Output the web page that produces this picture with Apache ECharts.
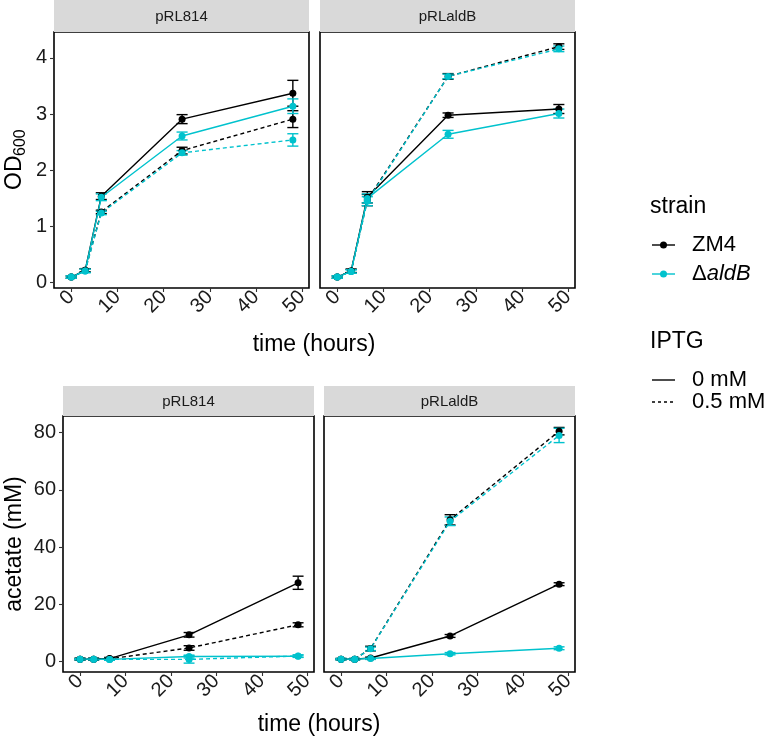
<!DOCTYPE html>
<html><head><meta charset="utf-8">
<script src="https://cdn.jsdelivr.net/npm/echarts@6/dist/echarts.min.js"></script>
<style>html,body{margin:0;padding:0;background:#fff}#c{width:771px;height:747px}</style>
</head><body><div id="c"></div>
<script>
// ---------------- data ----------------
const time = [0, 3, 6.5, 24, 48];
const xTicks = [0, 10, 20, 30, 40, 50];
const odTicks = [0, 1, 2, 3, 4];
const acTicks = [0, 20, 40, 60, 80];
const panelNames = ['pRL814', 'pRLaldB'];

// OD600 – pRL814
const od814_ZM4_0      = [0.10, 0.22, 1.54, 2.91, 3.37];
const od814_ZM4_0_err  = [0.02, 0.03, 0.06, 0.08, 0.23];
const od814_ZM4_05     = [0.10, 0.22, 1.26, 2.35, 2.91];
const od814_ZM4_05_err = [0.02, 0.03, 0.03, 0.06, 0.15];
const od814_dA_0       = [0.10, 0.21, 1.52, 2.61, 3.14];
const od814_dA_0_err   = [0.02, 0.03, 0.06, 0.07, 0.13];
const od814_dA_05      = [0.10, 0.21, 1.24, 2.31, 2.54];
const od814_dA_05_err  = [0.02, 0.03, 0.03, 0.04, 0.11];
// OD600 – pRLaldB
const odB_ZM4_0      = [0.10, 0.21, 1.52, 2.98, 3.09];
const odB_ZM4_0_err  = [0.02, 0.03, 0.10, 0.04, 0.08];
const odB_ZM4_05     = [0.10, 0.21, 1.47, 3.67, 4.20];
const odB_ZM4_05_err = [0.02, 0.03, 0.10, 0.05, 0.05];
const odB_dA_0       = [0.10, 0.20, 1.50, 2.64, 3.01];
const odB_dA_0_err   = [0.02, 0.03, 0.08, 0.07, 0.08];
const odB_dA_05      = [0.10, 0.20, 1.45, 3.67, 4.16];
const odB_dA_05_err  = [0.02, 0.03, 0.08, 0.04, 0.05];
// acetate – pRL814
const ac814_ZM4_0      = [0.8, 0.8, 1.0, 9.3, 27.5];
const ac814_ZM4_0_err  = [0.3, 0.3, 0.4, 0.8, 2.3];
const ac814_ZM4_05     = [0.8, 0.8, 0.9, 4.7, 12.8];
const ac814_ZM4_05_err = [0.3, 0.3, 0.3, 0.8, 0.7];
const ac814_dA_0       = [0.8, 0.8, 0.7, 1.7, 1.8];
const ac814_dA_0_err   = [0.2, 0.2, 0.3, 0.5, 0.4];
const ac814_dA_05      = [0.8, 0.8, 0.7, 0.7, 1.9];
const ac814_dA_05_err  = [0.2, 0.2, 0.3, 1.3, 0.4];
// acetate – pRLaldB
const acB_ZM4_0      = [0.8, 0.8, 1.2, 8.9, 27.0];
const acB_ZM4_0_err  = [0.2, 0.2, 0.3, 0.5, 0.5];
const acB_ZM4_05     = [0.8, 0.8, 4.5, 49.5, 80.5];
const acB_ZM4_05_err = [0.2, 0.2, 0.8, 1.8, 1.3];
const acB_dA_0       = [0.8, 0.8, 1.0, 2.7, 4.6];
const acB_dA_0_err   = [0.2, 0.2, 0.3, 0.4, 0.5];
const acB_dA_05      = [0.8, 0.8, 4.4, 49.0, 79.0];
const acB_dA_05_err  = [0.2, 0.2, 0.6, 1.5, 2.5];

// ---------------- style ----------------
const BLACK = '#000000';
const CYAN = '#00C2CD';
const FONT = '"Liberation Sans", Arial, sans-serif';
const CAP = 1.2; // half-width of error-bar caps, in hours

const panelsData = [
  [[od814_ZM4_0, od814_ZM4_0_err, BLACK, 'solid'], [od814_ZM4_05, od814_ZM4_05_err, BLACK, 'dashed'],
   [od814_dA_0, od814_dA_0_err, CYAN, 'solid'], [od814_dA_05, od814_dA_05_err, CYAN, 'dashed']],
  [[odB_ZM4_0, odB_ZM4_0_err, BLACK, 'solid'], [odB_ZM4_05, odB_ZM4_05_err, BLACK, 'dashed'],
   [odB_dA_0, odB_dA_0_err, CYAN, 'solid'], [odB_dA_05, odB_dA_05_err, CYAN, 'dashed']],
  [[ac814_ZM4_0, ac814_ZM4_0_err, BLACK, 'solid'], [ac814_ZM4_05, ac814_ZM4_05_err, BLACK, 'dashed'],
   [ac814_dA_0, ac814_dA_0_err, CYAN, 'solid'], [ac814_dA_05, ac814_dA_05_err, CYAN, 'dashed']],
  [[acB_ZM4_0, acB_ZM4_0_err, BLACK, 'solid'], [acB_ZM4_05, acB_ZM4_05_err, BLACK, 'dashed'],
   [acB_dA_0, acB_dA_0_err, CYAN, 'solid'], [acB_dA_05, acB_dA_05_err, CYAN, 'dashed']]
];

const grids = [
  {left: 54, top: 32, width: 255, height: 256},
  {left: 320, top: 32, width: 255, height: 256},
  {left: 63, top: 416, width: 251, height: 256},
  {left: 324, top: 416, width: 251, height: 256}
];
const yRanges = [[-0.094, 4.46], [-0.094, 4.46], [-3.7, 85.8], [-3.7, 85.8]];
const yTickSets = [odTicks, odTicks, acTicks, acTicks];
const TICKFONT = 20;

const xAxes = grids.map((g, i) => ({
  type: 'value', gridIndex: i, min: -3.75, max: 51.5,
  axisLine: {show: false, onZero: false}, splitLine: {show: false},
  axisTick: {show: true, length: 4, customValues: xTicks, lineStyle: {color: '#333', width: 1.1}},
  axisLabel: {customValues: xTicks, rotate: 45, margin: 6, fontSize: TICKFONT, color: '#1a1a1a', fontFamily: FONT}
}));
const yAxes = grids.map((g, i) => {
  const showIt = (i % 2 === 0);
  return {
    type: 'value', gridIndex: i, min: yRanges[i][0], max: yRanges[i][1],
    axisLine: {show: false, onZero: false}, splitLine: {show: false},
    axisTick: {show: showIt, length: 4, customValues: yTickSets[i], lineStyle: {color: '#333', width: 1.1}},
    axisLabel: {show: showIt, customValues: yTickSets[i], margin: 7, fontSize: TICKFONT, color: '#1a1a1a', fontFamily: FONT}
  };
});

function errRender(color) {
  return function (params, api) {
    const x = api.value(0), lo = api.value(1), hi = api.value(2);
    const pLo = api.coord([x, lo]), pHi = api.coord([x, hi]);
    const pL = api.coord([x - CAP, lo]), pR = api.coord([x + CAP, lo]);
    const h = (pR[0] - pL[0]) / 2;
    const st = {stroke: color, lineWidth: 1.4};
    return {type: 'group', children: [
      {type: 'line', shape: {x1: pLo[0], y1: pLo[1], x2: pHi[0], y2: pHi[1]}, style: st},
      {type: 'line', shape: {x1: pLo[0] - h, y1: pLo[1], x2: pLo[0] + h, y2: pLo[1]}, style: st},
      {type: 'line', shape: {x1: pHi[0] - h, y1: pHi[1], x2: pHi[0] + h, y2: pHi[1]}, style: st}
    ]};
  };
}

const series = [];
panelsData.forEach((groups, pi) => {
  groups.forEach(([vals, errs, color, ls]) => {
    series.push({
      type: 'custom', xAxisIndex: pi, yAxisIndex: pi,
      renderItem: errRender(color), silent: true, z: 3,
      encode: {x: 0, y: [1, 2]},
      data: time.map((t, k) => [t, vals[k] - errs[k], vals[k] + errs[k]])
    });
    series.push({
      type: 'line', xAxisIndex: pi, yAxisIndex: pi, z: 4,
      symbol: 'circle', symbolSize: 7, showSymbol: true,
      itemStyle: {color: color},
      lineStyle: {color: color, width: 1.4, type: ls === 'dashed' ? [4, 3] : 'solid'},
      data: time.map((t, k) => [t, vals[k]])
    });
  });
});

// strips, titles, legend
const graphic = [];
const stripBoxes = [
  {x: 54, y: 0, w: 255, h: 32, t: panelNames[0]},
  {x: 320, y: 0, w: 255, h: 32, t: panelNames[1]},
  {x: 63, y: 386, w: 251, h: 30, t: panelNames[0]},
  {x: 324, y: 386, w: 251, h: 30, t: panelNames[1]}
];
stripBoxes.forEach(s => {
  graphic.push({type: 'rect', shape: {x: s.x, y: s.y, width: s.w, height: s.h}, style: {fill: '#D9D9D9'}, silent: true});
  graphic.push({type: 'text', x: s.x + s.w / 2, y: s.y + s.h / 2 + 1,
    style: {text: s.t, fontSize: 15, fontFamily: FONT, fill: '#1A1A1A', textAlign: 'center', textVerticalAlign: 'middle'}});
});
const TITLEFONT = 23;
// x titles
graphic.push({type: 'text', x: 314, y: 345, style: {text: 'time (hours)', fontSize: TITLEFONT, fontFamily: FONT, fill: '#000', textAlign: 'center', textVerticalAlign: 'middle'}});
graphic.push({type: 'text', x: 319, y: 725, style: {text: 'time (hours)', fontSize: TITLEFONT, fontFamily: FONT, fill: '#000', textAlign: 'center', textVerticalAlign: 'middle'}});
// y titles
graphic.push({type: 'group', x: 15, y: 160, rotation: Math.PI / 2, children: [
  {type: 'text', x: -30, y: 0, style: {text: 'OD', fontSize: TITLEFONT, fontFamily: FONT, fill: '#000', textAlign: 'left', textVerticalAlign: 'middle'}},
  {type: 'text', x: 4, y: 6, style: {text: '600', fontSize: 16, fontFamily: FONT, fill: '#000', textAlign: 'left', textVerticalAlign: 'middle'}}
]});
graphic.push({type: 'text', x: 15, y: 544, rotation: Math.PI / 2,
  style: {text: 'acetate (mM)', fontSize: TITLEFONT, fontFamily: FONT, fill: '#000', textAlign: 'center', textVerticalAlign: 'middle'}});
// legend
const LX = 652, LT = 692, LFONT = 22;
graphic.push({type: 'text', x: 650, y: 207, style: {text: 'strain', fontSize: TITLEFONT, fontFamily: FONT, fill: '#000', textVerticalAlign: 'middle'}});
[[BLACK, 245, 'ZM4'], [CYAN, 274, null]].forEach(([c, y, lab]) => {
  graphic.push({type: 'line', shape: {x1: LX, y1: y, x2: LX + 23, y2: y}, style: {stroke: c, lineWidth: 1.4}});
  graphic.push({type: 'circle', shape: {cx: LX + 11.5, cy: y, r: 3.5}, style: {fill: c}});
  if (lab) {
    graphic.push({type: 'text', x: LT, y: y, style: {text: lab, fontSize: LFONT, fontFamily: FONT, fill: '#000', textVerticalAlign: 'middle'}});
  } else {
    graphic.push({type: 'text', x: LT, y: y, style: {text: '{a|Δ}{b|aldB}', textVerticalAlign: 'middle',
      rich: {a: {fontSize: LFONT, fontFamily: FONT, fill: '#000'}, b: {fontSize: LFONT, fontFamily: FONT, fontStyle: 'italic', fill: '#000'}}}});
  }
});
graphic.push({type: 'text', x: 650, y: 342, style: {text: 'IPTG', fontSize: TITLEFONT, fontFamily: FONT, fill: '#000', textVerticalAlign: 'middle'}});
[[380, 'solid', '0 mM'], [402, [3, 3], '0.5 mM']].forEach(([y, ls, lab]) => {
  graphic.push({type: 'line', shape: {x1: LX, y1: y, x2: LX + 23, y2: y}, style: {stroke: '#000', lineWidth: 1.4, lineDash: ls === 'solid' ? null : ls}});
  graphic.push({type: 'text', x: LT, y: y, style: {text: lab, fontSize: LFONT, fontFamily: FONT, fill: '#000', textVerticalAlign: 'middle'}});
});

const chart = echarts.init(document.getElementById('c'), null, {renderer: 'canvas'});
chart.setOption({
  backgroundColor: '#fff',
  animation: false,
  grid: grids.map(g => Object.assign({show: true, borderColor: '#000', borderWidth: 1.6, backgroundColor: '#fff'}, g)),
  xAxis: xAxes,
  yAxis: yAxes,
  series: series,
  graphic: graphic
});
</script>
</body></html>
